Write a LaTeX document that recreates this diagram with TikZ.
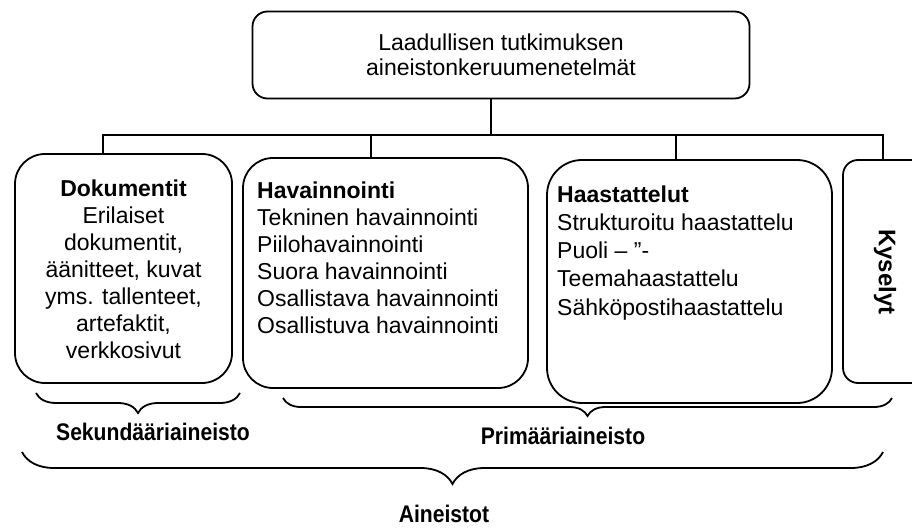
\documentclass[tikz,border=0pt]{standalone}
\usepackage{fontspec}
\setmainfont{Liberation Sans}
\newfontfamily\narrowfont[FakeStretch=0.88]{Liberation Sans}
\usepackage{tikz}
\usetikzlibrary{positioning,decorations.pathreplacing}

\begin{document}
\begin{tikzpicture}[
    x=1pt,y=-1pt,
    head/.style={rectangle,draw,line width=1.8pt,rounded corners=15pt,minimum width=497pt,minimum height=87pt,align=center,font=\fontsize{23}{25}\selectfont},
    method/.style={rectangle,draw,line width=1.8pt,rounded corners=30pt},
    kysbox/.style={rectangle,draw,line width=1.8pt,rounded corners=15pt},
    itemtxt/.style={anchor=north west,inner sep=0pt,align=left,font=\fontsize{23}{27}\selectfont},
    conn/.style={line width=1.4pt},
    brc/.style={decorate,decoration={brace,mirror,amplitude=#1},line width=1.8pt},
    bracelabel/.style={anchor=base,inner sep=0pt,font=\narrowfont\bfseries\fontsize{24}{26}\selectfont}
]
\useasboundingbox (0,0) rectangle (912,529);

% Top
\node[head] (top) at (501,55) {Laadullisen tutkimuksen\\aineistonkeruumenetelmät};

% Methods
\node[method,minimum width=217pt,minimum height=229pt] (dok) at (123.5,268.5) {};
\node[method,minimum width=285pt,minimum height=230pt] (hav) at (385.5,273) {};
\node[method,rounded corners=35pt,minimum width=285pt,minimum height=243pt] (haa) at (689.5,281.5) {};
\node[kysbox,minimum width=97pt,minimum height=223pt] (kys) at (891.5,271.5) {};

% Texts
\node[itemtxt,anchor=north,align=center] (doktxt) at (123.5,179.5) {\textbf{Dokumentit}\\Erilaiset\\dokumentit,\\äänitteet, kuvat\\yms. tallenteet,\\artefaktit,\\verkkosivut};
\node[itemtxt] (havtxt) at (257,181.5) {\textbf{Havainnointi}\\Tekninen havainnointi\\Piilohavainnointi\\Suora havainnointi\\Osallistava havainnointi\\Osallistuva havainnointi};
\node[itemtxt,font=\fontsize{23}{28.2}\selectfont] (haatxt) at (557,185.5) {\textbf{Haastattelut}\\Strukturoitu haastattelu\\Puoli – ”-\\Teemahaastattelu\\Sähköpostihaastattelu};
\node[rotate=-90,inner sep=0pt,font=\bfseries\fontsize{24}{26}\selectfont] (kystxt) at (885,272) {Kyselyt};

% Tree lines
\coordinate (bus) at (491,135);
\draw[conn] (top.south -| bus) -- (bus);
\draw[conn] (bus) -| ([xshift=-20.5pt]dok.north);
\draw[conn] (bus) -| ([xshift=-14.5pt]hav.north);
\draw[conn] (bus) -| ([xshift=-13.5pt]haa.north);
\draw[conn] (bus) -| ([xshift=-8.5pt]kys.north);

% Braces
\draw[brc=20pt] (36,393) -- (240,393);
\draw[brc=18pt] (283,398) -- (892,398);
\draw[brc=32pt] (22,452) -- (883,452);

\node[bracelabel] (sek) at (153,440) {Sekundääriaineisto};
\node[bracelabel] (prim) at (563,444) {Primääriaineisto};
\node[bracelabel] (ain) at (444,522) {Aineistot};
\end{tikzpicture}
\end{document}
